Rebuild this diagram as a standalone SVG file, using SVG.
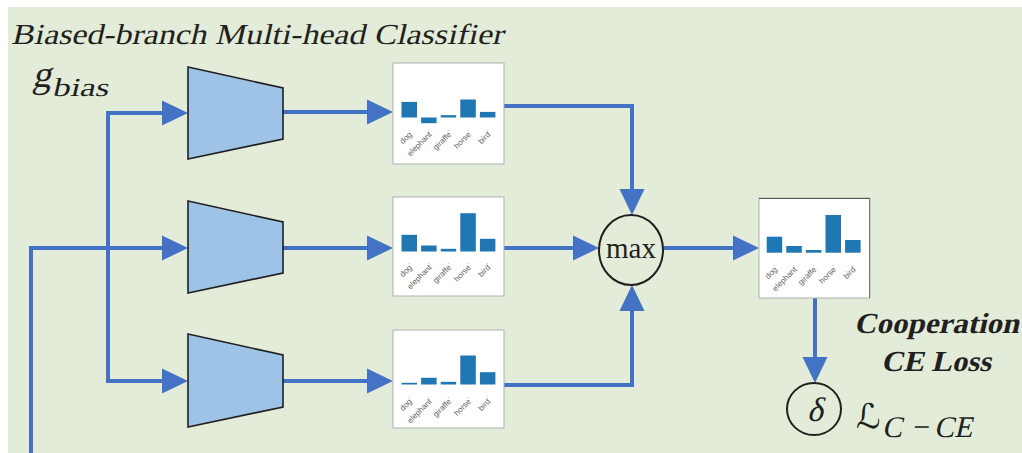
<svg xmlns="http://www.w3.org/2000/svg" width="1022" height="453" viewBox="0 0 1022 453">
  <defs>
    <style>
      .wire { fill: none; stroke: #4472c4; stroke-width: 4; stroke-linejoin: miter; }
      .head { fill: #4472c4; }
      .trap { fill: #9dc3e6; stroke: #231f20; stroke-width: 1.6; }
      .card { fill: #ffffff; stroke: #b0b0b0; stroke-width: 1; }
      .bar { fill: #1f77b4; }
      .tick { fill: #c8c8c8; }
      .lbl { font-family: "Liberation Sans", Arial, sans-serif; font-size: 8px; fill: #606060; text-anchor: end; }
      .serif { font-family: "Liberation Serif", "Times New Roman", serif; fill: #231f20; }
      .op { fill: none; stroke: #231f20; stroke-width: 2; }
    </style>
    <marker id="arrow" markerUnits="userSpaceOnUse" markerWidth="28" markerHeight="28" refX="0" refY="0" viewBox="0 -14 28 28" orient="auto" overflow="visible">
      <path class="head" d="M0,-12.5 L26,0 L0,12.5 Z"/>
    </marker>
    <!-- bar chart axis: ticks and slanted class names under a baseline at y=54.5 -->
    <g id="axis-labels">
      <rect class="tick" x="15.5" y="67" width="1.2" height="1.2"/>
      <rect class="tick" x="35.1" y="67" width="1.2" height="1.2"/>
      <rect class="tick" x="54.7" y="67" width="1.2" height="1.2"/>
      <rect class="tick" x="74.3" y="67" width="1.2" height="1.2"/>
      <rect class="tick" x="93.9" y="67" width="1.2" height="1.2"/>
      <text class="lbl" transform="translate(19.5,72) rotate(-45)">dog</text>
      <text class="lbl" transform="translate(39.1,72) rotate(-45)">elephant</text>
      <text class="lbl" transform="translate(58.7,72) rotate(-45)">giraffe</text>
      <text class="lbl" transform="translate(78.3,72) rotate(-45)">horse</text>
      <text class="lbl" transform="translate(97.9,72) rotate(-45)">bird</text>
    </g>
  </defs>

  <!-- panel background -->
  <rect x="0" y="0" width="1022" height="453" fill="#ffffff"/>
  <rect x="8" y="7" width="1014" height="446" fill="#e2ecd9"/>

  <!-- headings (slanted serif) -->
  <text class="serif" transform="translate(11,44) skewX(-13)" font-size="29" textLength="492" lengthAdjust="spacingAndGlyphs">Biased-branch Multi-head Classifier</text>
  <g id="g-bias">
    <text class="serif" transform="translate(32,87) skewX(-13)" font-size="38">g</text>
    <text class="serif" transform="translate(52,96) skewX(-13)" font-size="26" textLength="56" lengthAdjust="spacingAndGlyphs">bias</text>
  </g>

  <!-- connectors -->
  <g id="connectors">
    <path class="wire" d="M31,453 V248 H162" marker-end="url(#arrow)"/>
    <path class="wire" d="M108,248 V113 H162" marker-end="url(#arrow)"/>
    <path class="wire" d="M108,248 V381 H162" marker-end="url(#arrow)"/>
    <path class="wire" d="M283,112 H367" marker-end="url(#arrow)"/>
    <path class="wire" d="M283,248 H367" marker-end="url(#arrow)"/>
    <path class="wire" d="M283,381 H367" marker-end="url(#arrow)"/>
    <path class="wire" d="M504,106 H632 V189" marker-end="url(#arrow)"/>
    <path class="wire" d="M504,248 H573" marker-end="url(#arrow)"/>
    <path class="wire" d="M504,385 H632 V311" marker-end="url(#arrow)"/>
    <path class="wire" d="M663,248 H733" marker-end="url(#arrow)"/>
    <path class="wire" d="M815,298 V357" marker-end="url(#arrow)"/>
  </g>

  <!-- classifier heads -->
  <g id="head-1"><polygon class="trap" points="188,67 283,88 283,139 188,159"/></g>
  <g id="head-2"><polygon class="trap" points="188,201 283,222 283,273 188,293"/></g>
  <g id="head-3"><polygon class="trap" points="188,334 283,355 283,407 188,427"/></g>

  <!-- per-head predictions -->
  <g id="pred-1" transform="translate(393,63)">
    <rect class="card" x="0" y="0" width="111" height="101"/>
    <rect class="bar" x="8.5" y="38.9" width="15.5" height="15.6"/>
    <rect class="bar" x="28.1" y="54.5" width="15.5" height="5.7"/>
    <rect class="bar" x="47.7" y="52.2" width="15.5" height="2.3"/>
    <rect class="bar" x="67.3" y="36.5" width="15.5" height="18"/>
    <rect class="bar" x="86.9" y="48.9" width="15.5" height="5.6"/>
    <use href="#axis-labels"/>
  </g>
  <g id="pred-2" transform="translate(393,197)">
    <rect class="card" x="0" y="0" width="111" height="99"/>
    <rect class="bar" x="8.5" y="37.8" width="15.5" height="16.7"/>
    <rect class="bar" x="28.1" y="48.5" width="15.5" height="6"/>
    <rect class="bar" x="47.7" y="51.8" width="15.5" height="2.7"/>
    <rect class="bar" x="67.3" y="16.2" width="15.5" height="38.3"/>
    <rect class="bar" x="86.9" y="41.8" width="15.5" height="12.7"/>
    <use href="#axis-labels" transform="translate(0,-1)"/>
  </g>
  <g id="pred-3" transform="translate(393,330)">
    <rect class="card" x="0" y="0" width="111" height="98"/>
    <rect class="bar" x="8.5" y="52.8" width="15.5" height="1.7"/>
    <rect class="bar" x="28.1" y="47.8" width="15.5" height="6.7"/>
    <rect class="bar" x="47.7" y="51.8" width="15.5" height="2.7"/>
    <rect class="bar" x="67.3" y="25.5" width="15.5" height="29"/>
    <rect class="bar" x="86.9" y="42.2" width="15.5" height="12.3"/>
    <use href="#axis-labels"/>
  </g>

  <!-- max fusion -->
  <g id="max-op">
    <ellipse class="op" cx="631" cy="250" rx="32" ry="35"/>
    <text class="serif" x="631" y="258" font-size="29" text-anchor="middle">max</text>
  </g>

  <!-- fused prediction -->
  <g id="pred-fused" transform="translate(759,198)">
    <rect class="card" x="0" y="0" width="111" height="100"/>
    <line x1="0" y1="0.5" x2="111" y2="0.5" stroke="#555" stroke-width="1.2"/>
    <line x1="110.5" y1="0" x2="110.5" y2="100" stroke="#777" stroke-width="1"/>
    <rect class="bar" x="7.7" y="38.7" width="15.5" height="16"/>
    <rect class="bar" x="27.3" y="48" width="15.5" height="6.7"/>
    <rect class="bar" x="46.9" y="52" width="15.5" height="2.7"/>
    <rect class="bar" x="66.5" y="17" width="15.5" height="37.7"/>
    <rect class="bar" x="86.1" y="42" width="15.5" height="12.7"/>
    <use href="#axis-labels" transform="translate(-0.8,0)"/>
  </g>

  <!-- loss -->
  <g id="loss-label">
    <text class="serif" transform="translate(1019,333) skewX(-13)" font-size="29" font-weight="bold" text-anchor="end" textLength="165" lengthAdjust="spacingAndGlyphs">Cooperation</text>
    <text class="serif" transform="translate(936,371) skewX(-13)" font-size="29" font-weight="bold" text-anchor="middle" textLength="110" lengthAdjust="spacingAndGlyphs">CE Loss</text>
  </g>
  <g id="loss">
    <ellipse class="op" cx="814" cy="409" rx="27" ry="26"/>
    <text class="serif" transform="translate(815,421) skewX(-13)" font-size="34" text-anchor="middle">δ</text>
    <text x="856" y="428" font-family="'DejaVu Serif', 'DejaVu Sans', serif" font-size="34" fill="#231f20">ℒ</text>
    <text class="serif" transform="translate(882,437) skewX(-13)" font-size="30"><tspan>C</tspan><tspan x="29">−</tspan><tspan x="52">CE</tspan></text>
  </g>
</svg>
